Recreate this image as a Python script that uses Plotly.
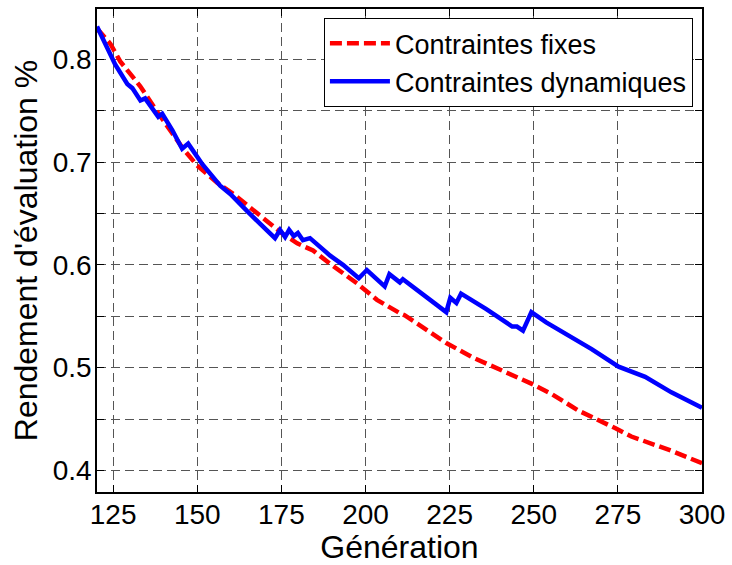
import plotly.graph_objects as go

# Contraintes fixes (red dashed)
gen_fixes = [120.2, 124.2, 127.1, 133.0, 138.1, 142.0, 145.8, 149.9, 153.8, 155.9,
             160.7, 165.7, 169.6, 171.7, 175.5, 179.7, 184.4, 190.3, 197.5, 203.4,
             206.4, 210.2, 211.6, 224.0, 231.8, 241.8, 249.6, 255.5, 263.4, 274.3,
             279.0, 291.0, 298.9, 300.0]
rend_fixes = [0.830, 0.815, 0.798, 0.774, 0.749, 0.730, 0.713, 0.697, 0.685, 0.680,
              0.669, 0.656, 0.645, 0.640, 0.630, 0.621, 0.614, 0.599, 0.582, 0.566,
              0.560, 0.553, 0.551, 0.524, 0.510, 0.496, 0.484, 0.474, 0.458, 0.441,
              0.433, 0.419, 0.409, 0.407]

# Contraintes dynamiques (blue solid)
gen_dyn = [120.2, 125.6, 129.2, 130.7, 133.1, 134.5, 138.4, 139.6, 142.6, 145.5,
           147.3, 151.5, 156.8, 159.8, 164.9, 169.6, 173.1, 174.6, 176.1, 177.3,
           178.7, 179.9, 181.4, 183.5, 189.5, 193.3, 198.0, 200.4, 205.7, 207.1,
           210.2, 211.1, 217.0, 224.0, 225.2, 227.0, 228.4, 235.9, 243.6, 245.0,
           246.8, 249.3, 253.7, 260.5, 267.2, 275.2, 283.1, 290.9, 300.0]
rend_dyn = [0.832, 0.795, 0.776, 0.772, 0.760, 0.762, 0.744, 0.747, 0.731, 0.713,
            0.718, 0.698, 0.677, 0.669, 0.652, 0.637, 0.626, 0.634, 0.627, 0.634,
            0.628, 0.631, 0.624, 0.626, 0.609, 0.600, 0.587, 0.595, 0.579, 0.591,
            0.583, 0.586, 0.571, 0.554, 0.568, 0.563, 0.572, 0.557, 0.540, 0.540,
            0.536, 0.554, 0.544, 0.531, 0.518, 0.501, 0.491, 0.476, 0.461]

FONT = "Liberation Sans, Arial, sans-serif"
GRID = dict(showgrid=True, gridcolor="#555555", gridwidth=1, griddash="9px,5px")

fig = go.Figure()
fig.add_trace(go.Scatter(x=gen_fixes, y=rend_fixes, mode="lines",
                         name="Contraintes fixes",
                         line=dict(color="#ff0000", width=4.5, dash="12px,5px")))
fig.add_trace(go.Scatter(x=gen_dyn, y=rend_dyn, mode="lines",
                         name="Contraintes dynamiques",
                         line=dict(color="#0000ff", width=4.5)))

fig.update_layout(
    width=732, height=565,
    margin=dict(l=97, r=26, t=7, b=73),
    paper_bgcolor="white", plot_bgcolor="white",
    font=dict(family=FONT, size=27, color="black"),
    showlegend=True,
    legend=dict(x=0.985, y=0.981, xanchor="right", yanchor="top",
                bgcolor="white", bordercolor="black", borderwidth=1,
                itemwidth=60, font=dict(size=27)),
)
fig.update_xaxes(range=[120.2, 300], tick0=0, dtick=25,
                 showline=True, linecolor="black", linewidth=1.5, mirror="ticks",
                 ticks="inside", ticklen=7, tickcolor="black",
                 tickfont=dict(size=28), ticklabelstandoff=-3,
                 title=dict(text="Génération", standoff=0), zeroline=False, **GRID)
fig.update_yaxes(range=[0.379, 0.849], tick0=0, dtick=0.1, tickformat=".1f",
                 showline=True, linecolor="black", linewidth=1.5, mirror="ticks",
                 ticks="inside", ticklen=7, tickcolor="black",
                 tickfont=dict(size=28), ticklabelstandoff=-2,
                 minor=dict(dtick=0.05, showgrid=True, gridcolor="#555555",
                            griddash="9px,5px", ticks="inside", ticklen=7,
                            tickcolor="black"),
                 title=dict(text="Rendement d'évaluation %", standoff=6),
                 zeroline=False, **GRID)

# page body margin off so the figure sits at the window's corner
fig.write_html("out.html", config={"displayModeBar": False},
               post_script="document.body.style.margin='0px';")
